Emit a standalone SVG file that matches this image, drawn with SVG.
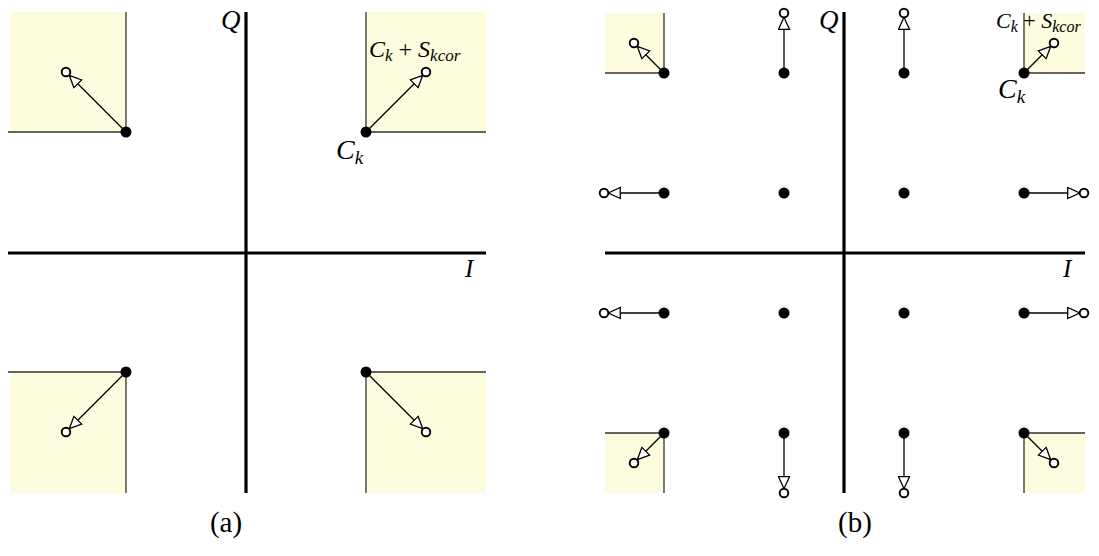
<svg xmlns="http://www.w3.org/2000/svg" width="1099" height="556" viewBox="0 0 1099 556">
<style>
.bg{fill:#fefcde;stroke:none}
.ql{stroke:#333;stroke-width:1.3;fill:none}
.ax{stroke:#000;stroke-width:3.2}
.arr{stroke:#000;stroke-width:1.3;fill:none;marker-end:url(#tri)}
.dot{fill:#000}
.oc{fill:#fff;stroke:#000;stroke-width:1.9}
text{font-family:"Liberation Serif","Times New Roman",serif;fill:#000}
.it{font-style:italic}
</style>
<defs>
<marker id="tri" markerUnits="userSpaceOnUse" markerWidth="16" markerHeight="14" refX="12" refY="5.5" orient="auto" viewBox="-1 -1 16 14">
<path d="M0,0 L12,5.5 L0,11 Z" fill="#fff" stroke="#000" stroke-width="1.3"/>
</marker>
</defs>
<g id="panel-a">
<g id="a-regions">
<rect class="bg" x="10" y="12" width="116" height="120"/>
<rect class="bg" x="366" y="12" width="120" height="120"/>
<rect class="bg" x="10" y="372" width="116" height="121"/>
<rect class="bg" x="366" y="372" width="120" height="121"/>
<path class="ql" d="M8,132 H126 V12 M366,12 V132 H486 M8,372 H126 V493 M366,493 V372 H486"/>
</g>
<g id="a-axes">
<line class="ax" x1="246" y1="12" x2="246" y2="493"/>
<line class="ax" x1="8" y1="253" x2="486" y2="253"/>
</g>
<g id="a-connectors">
<line class="arr" x1="126" y1="132" x2="69.3" y2="75.3"/>
<line class="arr" x1="366" y1="132" x2="422.7" y2="75.3"/>
<line class="arr" x1="126" y1="372" x2="69.3" y2="428.7"/>
<line class="arr" x1="366" y1="372" x2="422.7" y2="428.7"/>
</g>
<g id="a-points">
<circle class="dot" cx="126" cy="132" r="5.5"/>
<circle class="dot" cx="366" cy="132" r="5.5"/>
<circle class="dot" cx="126" cy="372" r="5.5"/>
<circle class="dot" cx="366" cy="372" r="5.5"/>
<circle class="oc" cx="66" cy="72" r="4.3"/>
<circle class="oc" cx="426" cy="72" r="4.3"/>
<circle class="oc" cx="66" cy="432" r="4.3"/>
<circle class="oc" cx="426" cy="432" r="4.3"/>
</g>
<g id="a-labels">
<text class="it" x="221" y="29" font-size="27">Q</text>
<text class="it" x="465" y="277" font-size="25">I</text>
<text x="336" y="159" font-size="28"><tspan class="it">C</tspan><tspan class="it" font-size="19" dy="5">k</tspan></text>
<text x="369" y="57" font-size="24"><tspan class="it">C</tspan><tspan class="it" font-size="17" dy="4">k</tspan><tspan dy="-4"> + </tspan><tspan class="it">S</tspan><tspan class="it" font-size="17" dy="4">kcor</tspan></text>
<text x="226" y="532" font-size="29" text-anchor="middle">(a)</text>
</g>
</g>
<g id="panel-b">
<g id="b-regions">
<rect class="bg" x="605" y="13" width="59" height="60"/>
<rect class="bg" x="1024" y="13" width="61" height="60"/>
<rect class="bg" x="605" y="433" width="59" height="60"/>
<rect class="bg" x="1024" y="433" width="61" height="60"/>
<path class="ql" d="M605,73 H664 V13 M1024,13 V73 H1085 M605,433 H664 V493 M1024,493 V433 H1085"/>
</g>
<g id="b-axes">
<line class="ax" x1="844" y1="12" x2="844" y2="493"/>
<line class="ax" x1="605" y1="253" x2="1085" y2="253"/>
</g>
<g id="b-connectors">
<line class="arr" x1="664" y1="73" x2="637.3" y2="46.3"/>
<line class="arr" x1="1024" y1="73" x2="1050.7" y2="46.3"/>
<line class="arr" x1="664" y1="433" x2="637.3" y2="459.7"/>
<line class="arr" x1="1024" y1="433" x2="1050.7" y2="459.7"/>
<line class="arr" x1="784" y1="73" x2="784" y2="17.3"/>
<line class="arr" x1="904" y1="73" x2="904" y2="17.3"/>
<line class="arr" x1="784" y1="433" x2="784" y2="488.7"/>
<line class="arr" x1="904" y1="433" x2="904" y2="488.7"/>
<line class="arr" x1="664" y1="193" x2="608.3" y2="193"/>
<line class="arr" x1="664" y1="313" x2="608.3" y2="313"/>
<line class="arr" x1="1024" y1="193" x2="1079.7" y2="193"/>
<line class="arr" x1="1024" y1="313" x2="1079.7" y2="313"/>
</g>
<g id="b-points">
<circle class="dot" cx="664" cy="73" r="5.5"/>
<circle class="dot" cx="784" cy="73" r="5.5"/>
<circle class="dot" cx="904" cy="73" r="5.5"/>
<circle class="dot" cx="1024" cy="73" r="5.5"/>
<circle class="dot" cx="664" cy="193" r="5.5"/>
<circle class="dot" cx="784" cy="193" r="5.5"/>
<circle class="dot" cx="904" cy="193" r="5.5"/>
<circle class="dot" cx="1024" cy="193" r="5.5"/>
<circle class="dot" cx="664" cy="313" r="5.5"/>
<circle class="dot" cx="784" cy="313" r="5.5"/>
<circle class="dot" cx="904" cy="313" r="5.5"/>
<circle class="dot" cx="1024" cy="313" r="5.5"/>
<circle class="dot" cx="664" cy="433" r="5.5"/>
<circle class="dot" cx="784" cy="433" r="5.5"/>
<circle class="dot" cx="904" cy="433" r="5.5"/>
<circle class="dot" cx="1024" cy="433" r="5.5"/>
<circle class="oc" cx="634" cy="43" r="4.3"/>
<circle class="oc" cx="1054" cy="43" r="4.3"/>
<circle class="oc" cx="634" cy="463" r="4.3"/>
<circle class="oc" cx="1054" cy="463" r="4.3"/>
<circle class="oc" cx="784" cy="13" r="4.3"/>
<circle class="oc" cx="904" cy="13" r="4.3"/>
<circle class="oc" cx="784" cy="493" r="4.3"/>
<circle class="oc" cx="904" cy="493" r="4.3"/>
<circle class="oc" cx="604" cy="193" r="4.3"/>
<circle class="oc" cx="604" cy="313" r="4.3"/>
<circle class="oc" cx="1084" cy="193" r="4.3"/>
<circle class="oc" cx="1084" cy="313" r="4.3"/>
</g>
<g id="b-labels">
<text class="it" x="819" y="29" font-size="27">Q</text>
<text class="it" x="1063" y="277" font-size="25">I</text>
<text x="998" y="98" font-size="28"><tspan class="it">C</tspan><tspan class="it" font-size="19" dy="5">k</tspan></text>
<text x="996" y="28" font-size="22"><tspan class="it">C</tspan><tspan class="it" font-size="16" dy="4">k</tspan><tspan dy="-4"> + </tspan><tspan class="it">S</tspan><tspan class="it" font-size="16" dy="4">kcor</tspan></text>
<text x="855" y="532" font-size="29" text-anchor="middle">(b)</text>
</g>
</g>
</svg>
